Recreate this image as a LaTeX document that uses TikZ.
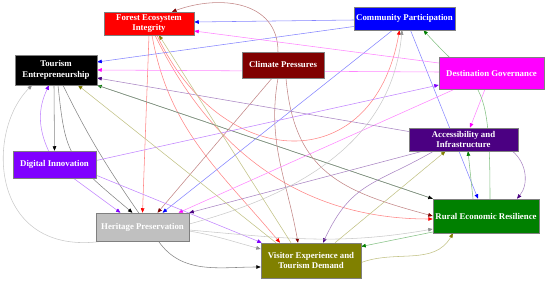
\documentclass[tikz,border=0pt]{standalone}
\usepackage{fontspec}
\setmainfont{Liberation Serif}
\usepackage{xcolor}
\usetikzlibrary{arrows.meta, backgrounds}
\definecolor{forestred}{HTML}{FF0000}
\definecolor{commblue}{HTML}{0000FF}
\definecolor{climred}{HTML}{800000}
\definecolor{govmagenta}{HTML}{FF00FF}
\definecolor{accindigo}{HTML}{4B0082}
\definecolor{digpurple}{HTML}{8000FF}
\definecolor{heritgray}{HTML}{C0C0C0}
\definecolor{visolive}{HTML}{808000}
\definecolor{ruralgreen}{HTML}{008000}

\begin{document}
\begin{tikzpicture}[
      x=1pt, y=1pt,
      factor/.style={draw=gray, line width=0.5pt, text=white, inner sep=0pt, align=center, font=\bfseries\fontsize{8.8}{10.5}\selectfont},
      link/.style={draw=#1!48, line width=0.55pt, -{Triangle[length=4.5pt, width=3.6pt, color=#1]}}
    ]
      \useasboundingbox (0,0) rectangle (550,282);

      \node[factor, fill=forestred, minimum width=90, minimum height=23] (forest) at (149,258.5) {Forest Ecosystem\\Integrity};
      \node[factor, fill=commblue, minimum width=101, minimum height=23] (community) at (404.5,263.5) {Community Participation};
      \node[factor, fill=black, minimum width=82, minimum height=30] (entre) at (56,212) {Tourism\\Entrepreneurship};
      \node[factor, fill=climred, minimum width=82, minimum height=26] (climate) at (283,217) {Climate Pressures};
      \node[factor, fill=govmagenta, minimum width=105, minimum height=32] (governance) at (491.5,209) {Destination Governance};
      \node[factor, fill=accindigo, minimum width=109, minimum height=23] (access) at (463.5,142.5) {Accessibility and\\Infrastructure};
      \node[factor, fill=digpurple, minimum width=83, minimum height=27] (digital) at (54.5,117.5) {Digital Innovation};
      \node[factor, fill=heritgray, minimum width=93, minimum height=28] (heritage) at (142.5,55) {Heritage Preservation};
      \node[factor, fill=visolive, minimum width=100, minimum height=35] (visitor) at (311,21.5) {Visitor Experience and\\Tourism Demand};
      \node[factor, fill=ruralgreen, minimum width=106, minimum height=34] (rural) at (486,66) {Rural Economic Resilience};

      \begin{scope}[on background layer]
      \draw[link=forestred] (forest.south) -- (heritage.north);
      \draw[link=forestred] ([xshift=3]forest.south) to[out=-80,in=130] ([xshift=-31]visitor.north);
      \draw[link=forestred] ([xshift=6]forest.south) to[out=-64,in=180] ([yshift=-3]rural.west);
      \draw[link=forestred] ([xshift=8]forest.south) to[out=-65,in=-100,looseness=1.6] ([xshift=-5]community.south);

      \draw[link=commblue] ([yshift=-1.5]community.west) -- ([yshift=1.5]forest.east);
      \draw[link=commblue] ([yshift=-8]community.west) -- ([yshift=8]entre.east);
      \draw[link=commblue] ([xshift=-12]community.south) -- ([xshift=20]heritage.north);
      \draw[link=commblue] ([xshift=6]community.south) -- ([xshift=-8]rural.north);

      \draw[link=ruralgreen] (rural.north west) -- (entre.south east);
      \draw[link=black] ([xshift=-2]entre.south) -- (digital.north);
      \draw[link=black] ([xshift=2]entre.south) to[out=-84,in=140,out looseness=1.25,in looseness=1.45] ([xshift=-10]heritage.north);
      \draw[link=black] ([xshift=7]entre.south) to[out=-64,in=125] ([xshift=16]heritage.south) to[out=-55,in=180] ([yshift=-6.5]visitor.west);
      \draw[link=black] (entre.south east) -- (rural.north west);

      \draw[link=climred] ([xshift=-5]climate.north) to[out=90,in=20,looseness=1.15] ([xshift=23]forest.north);
      \draw[link=climred] ([xshift=-11]climate.south) -- ([xshift=15]heritage.north);
      \draw[link=climred] ([xshift=-5]climate.south) to[out=-100,in=100] ([xshift=-13]visitor.north);
      \draw[link=climred] ([xshift=3]climate.south) to[out=-85,in=165,looseness=1.2] (rural.west);

      \draw[link=govmagenta] ([yshift=10]governance.west) -- ([yshift=-7.5]forest.east);
      \draw[link=govmagenta] ([yshift=1]governance.west) -- (entre.east);
      \draw[link=govmagenta] ([xshift=-37]governance.south) -- ([xshift=36]heritage.north);
      \draw[link=govmagenta] ([xshift=-6.5]governance.south) -- ([xshift=6.5]access.north);

      \draw[link=accindigo] ([yshift=8]access.west) -- ([yshift=-8]entre.east);
      \draw[link=accindigo] ([xshift=-41]access.south) -- (heritage.north east);
      \draw[link=accindigo] ([xshift=-30]access.south) to[out=-150,in=65,looseness=1.2] ([xshift=12]visitor.north);
      \draw[link=accindigo] ([xshift=49]access.south) to[bend left=45] ([xshift=31]rural.north);

      \draw[link=digpurple] ([xshift=-6]digital.north) to[bend left=25] ([xshift=-7]entre.south);
      \draw[link=digpurple] ([xshift=19]digital.south) -- ([xshift=-22]heritage.north);
      \draw[link=digpurple] ([yshift=3]digital.south east) -- ([xshift=1]visitor.north west);
      \draw[link=digpurple] ([yshift=4]digital.east) -- ([yshift=-12]governance.west);

      \draw[link=heritgray!75!black] ([xshift=-40]heritage.south) .. controls (-10,25) and (-15,150) .. ([xshift=-24]entre.south);
      \draw[link=heritgray!75!black] ([yshift=-4]heritage.east) to[out=-10,in=165] ([yshift=11.5]visitor.west);
      \draw[link=heritgray!75!black] ([yshift=-3]heritage.east) to[out=-5,in=190] ([yshift=-13]rural.west);
      \draw[link=heritgray!75!black] ([yshift=3]heritage.east) to[out=15,in=-95] ([xshift=-2.5]community.south);

      \draw[link=visolive] ([xshift=-35]visitor.north) -- ([xshift=22]entre.south);
      \draw[link=visolive] ([xshift=-20]visitor.north) -- ([xshift=10]forest.south);
      \draw[link=visolive] ([xshift=24]visitor.north) -- ([xshift=-18]access.south);
      \draw[link=visolive] ([yshift=-2]visitor.east) to[out=20,in=-120] ([xshift=-33]rural.south);

      \draw[link=ruralgreen] ([xshift=4]rural.north) to[out=90,in=-48,out looseness=1.8,in looseness=1.2] ([xshift=19]community.south);
      \draw[link=ruralgreen] ([xshift=-13]rural.north) -- ([xshift=4.5]access.south);
      \draw[link=ruralgreen] ([yshift=-16]rural.west) -- ([yshift=14]visitor.east);
      \end{scope}
    \end{tikzpicture}
\end{document}
